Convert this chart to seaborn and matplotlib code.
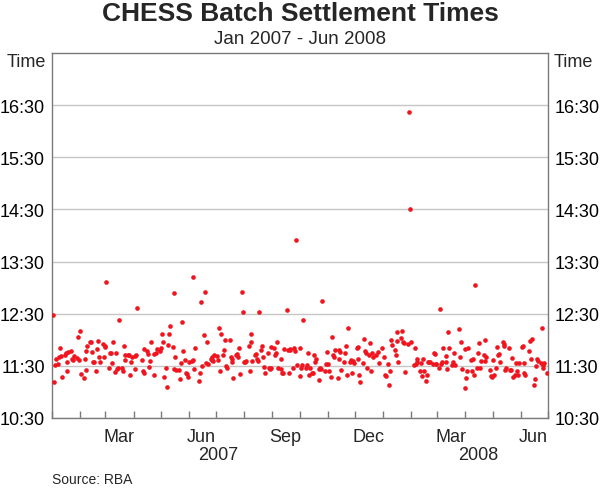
import pandas as pd
import matplotlib
matplotlib.use('Agg')
import matplotlib.pyplot as plt
import matplotlib.dates as mdates
import matplotlib.transforms as mtransforms
import seaborn as sns

# trading days, Jan 2007 - Jun 2008 (ASX holidays dropped)
start_date = '2007-01-02'
end_date = '2008-06-30'
asx_holidays = ['2007-01-26', '2007-04-06', '2007-04-09', '2007-04-25', '2007-06-11',
                '2007-12-25', '2007-12-26', '2008-01-01', '2008-01-28', '2008-03-21',
                '2008-03-24', '2008-04-25', '2008-06-09']

# settlement times, in date order
times_jan_apr07 = [
    "12:29", "11:11", "11:31", "11:38", "11:32", "11:40", "11:50", "11:41", "11:17", "11:43",
    "11:45", "11:24", "11:35", "11:46", "11:47", "11:38", "11:37", "11:41", "11:39", "12:03",
    "11:37", "12:10", "11:21", "11:16", "11:38", "11:47", "11:25", "11:53", "11:57", "11:58",
    "11:46", "11:34", "11:35", "11:24", "11:49", "11:59", "11:40", "11:34", "11:55", "11:40",
    "11:53", "11:52", "13:07",
    "11:27", "11:45", "11:45", "11:33", "11:57", "11:23", "11:45", "11:26", "11:28", "12:23",
    "11:27", "11:24", "11:53", "11:43", "11:37", "11:43", "11:43", "11:20", "11:35", "11:40",
    "11:26", "11:41", "11:43", "12:37", "11:37", "11:24", "11:22", "11:49", "11:47", "11:44",
    "11:29"]
times_apr_aug07 = [
    "11:36", "11:58", "11:44",
    "11:19", "11:45", "11:49", "11:47", "11:50", "12:07", "11:58", "11:17", "11:28", "11:06",
    "11:54", "12:07", "12:16", "11:52", "11:26", "12:54", "11:40", "11:25", "11:25", "11:15",
    "11:33", "12:20", "11:47", "11:37", "11:22", "11:21", "11:17", "11:34", "11:36", "11:37",
    "13:12", "11:26", "11:50", "11:13", "11:22", "12:43", "11:30", "12:06", "12:55", "11:33",
    "11:58", "11:32", "11:38", "11:37", "11:40", "11:36", "11:43", "11:41", "11:37", "12:13",
    "11:24", "12:07", "11:42", "11:48", "12:00", "11:30", "11:28", "12:00", "11:40", "11:38",
    "11:34", "11:16", "11:43", "11:44", "11:40", "11:50", "11:21", "12:55", "12:32", "11:35"]
times_aug_nov07 = [
    "11:34", "11:36", "11:53", "11:24", "11:58", "12:07", "11:36", "11:42", "11:44", "11:38",
    "11:36", "12:32", "11:48", "11:53", "11:40", "11:29", "11:22", "11:45", "11:28", "11:26",
    "11:52", "11:27", "11:50", "11:43", "11:45", "11:58", "11:28", "11:26", "11:38", "11:22",
    "11:22", "11:49", "12:34", "11:48", "11:22", "11:48", "11:49", "11:28", "11:50", "11:47",
    "13:55",
    "11:31", "11:18", "11:51", "11:27", "11:31", "12:23", "11:27", "11:31", "11:45", "11:20",
    "11:28", "11:22", "11:22", "11:42", "11:35", "11:38", "11:26", "11:14", "11:28", "11:26",
    "12:45", "11:24", "11:32", "11:46", "11:32", "11:24", "11:17", "12:03", "11:43", "11:40",
    "11:48", "11:16", "11:48"]
times_nov07_feb08 = [
    "11:38", "11:46", "11:25", "11:35", "11:45", "11:53", "11:20", "12:14", "11:35", "11:37",
    "11:22", "11:36", "11:33", "11:50", "11:38", "11:52", "11:19", "11:11", "11:33", "12:01",
    "11:47", "11:45", "11:27", "11:43", "11:56", "11:24", "11:45", "11:40", "11:43", "11:46",
    "11:33", "11:50", "11:40", "11:20", "11:18", "11:32", "11:08", "11:24", "12:00", "11:54",
    "11:48", "11:42", "11:59", "12:09", "11:35", "12:02", "12:10", "11:57", "11:56", "11:23",
    "11:55", "16:22", "14:31", "11:57", "11:31", "11:51", "11:32", "11:35", "11:38", "11:24",
    "11:33", "11:18", "11:38", "11:24", "11:13", "11:20", "11:35", "11:35", "11:34", "11:32",
    "11:45"]
times_feb_jun08 = [
    "11:44", "11:32", "11:32", "11:27", "12:36", "11:32", "11:34", "11:50", "11:34", "11:41",
    "11:26", "12:09", "11:51", "11:31", "11:34", "11:45", "11:31", "12:12", "11:40", "11:58",
    "11:26", "11:05", "11:49", "11:16", "11:24", "11:50", "11:37", "11:24", "11:38", "11:20",
    "13:03",
    "11:28", "11:45", "11:56", "11:28", "11:36", "11:42", "11:36", "12:00", "11:40", "11:25",
    "11:18", "11:17", "11:37", "11:20", "11:28", "11:52", "11:42", "11:44", "11:35", "11:58",
    "11:55", "11:53", "11:25", "11:28", "11:51", "11:25", "11:25", "11:39", "11:17", "11:20",
    "11:33", "11:24", "11:20", "11:33", "11:52", "11:53", "11:22", "11:33", "11:20", "11:47",
    "11:59", "11:38", "12:01", "11:08", "11:15", "11:30", "11:38", "11:36", "11:33", "12:13",
    "11:31", "11:28", "11:33", "11:22"]

hour_ticks = [10.5, 11.5, 12.5, 13.5, 14.5, 15.5, 16.5]
hour_labels = ['10:30', '11:30', '12:30', '13:30', '14:30', '15:30', '16:30']
month_label_dates = ['2007-03-16', '2007-06-15', '2007-09-15', '2007-12-16', '2008-03-16', '2008-06-15']
month_labels = ['Mar', 'Jun', 'Sep', 'Dec', 'Mar', 'Jun']
year_label_dates = ['2007-07-03', '2008-04-15']
year_labels = ['2007', '2008']

dot_red = '#f0141e'
frame_grey = '#7a7a7a'

times = times_jan_apr07 + times_apr_aug07 + times_aug_nov07 + times_nov07_feb08 + times_feb_jun08
days = pd.bdate_range(start_date, end_date, freq='C', holidays=asx_holidays)
n = min(len(days), len(times))
df = pd.DataFrame({'date': days[:n], 'time': times[:n]})
t = pd.to_datetime(df['time'], format='%H:%M')
df['hours'] = t.dt.hour + t.dt.minute / 60

sns.set_theme(style='white')
plt.rcParams['font.family'] = ['Liberation Sans', 'DejaVu Sans']

fig = plt.figure(figsize=(6, 4.89), dpi=100)
ax = fig.add_axes([52 / 600, 70 / 489, 496 / 600, 365 / 489])

sns.scatterplot(data=df, x='date', y='hours', ax=ax, color=dot_red, s=11,
                linewidth=0, legend=False, zorder=3)

ax.set_xlim(pd.Timestamp('2007-01-01'), pd.Timestamp('2008-07-01'))
ax.set_ylim(10.5, 17.5)
ax.set_xlabel('')
ax.set_ylabel('')

# y axis: labels both sides, grid lines, no tick marks
ax.set_yticks(hour_ticks, labels=hour_labels)
ax.tick_params(axis='y', length=0, pad=5, labelsize=13, labelleft=True, labelright=True,
               colors='#000000')
ax.grid(axis='y', color='#c6c6c6', linewidth=1, zorder=0)
ax.grid(axis='x', visible=False)

# x axis: month ticks inside, labels mid-month
ax.xaxis.set_major_locator(mdates.MonthLocator())
ax.xaxis.set_major_formatter(plt.NullFormatter())
ax.tick_params(axis='x', which='major', direction='in', length=5, width=1, color=frame_grey, bottom=True)
ax.set_xticks(pd.to_datetime(month_label_dates), labels=month_labels, minor=True)
ax.tick_params(axis='x', which='minor', length=0, pad=7, labelsize=13)

for side in ['left', 'right', 'top', 'bottom']:
    ax.spines[side].set_visible(True)
    ax.spines[side].set_color(frame_grey)
    ax.spines[side].set_linewidth(1)

blend = mtransforms.blended_transform_factory(ax.transData, ax.transAxes)
for d, lab in zip(year_label_dates, year_labels):
    ax.text(pd.Timestamp(d), -0.099, lab, transform=blend, ha='center', va='center', fontsize=13)

ax.text(-6 / 496, 1.0, 'Time', transform=ax.transAxes, ha='right', va='top', fontsize=13)
ax.text(1 + 6 / 496, 1.0, 'Time', transform=ax.transAxes, ha='left', va='top', fontsize=13)

fig.text(0.5, 1 - 14 / 489, 'CHESS Batch Settlement Times', ha='center', va='center',
         fontsize=19, fontweight='bold')
fig.text(0.5, 1 - 39 / 489, 'Jan 2007 - Jun 2008', ha='center', va='center', fontsize=13.5)
fig.text(52 / 600, 1 - 480 / 489, 'Source: RBA', ha='left', va='center', fontsize=10)

fig.savefig('out.png', dpi=100)
